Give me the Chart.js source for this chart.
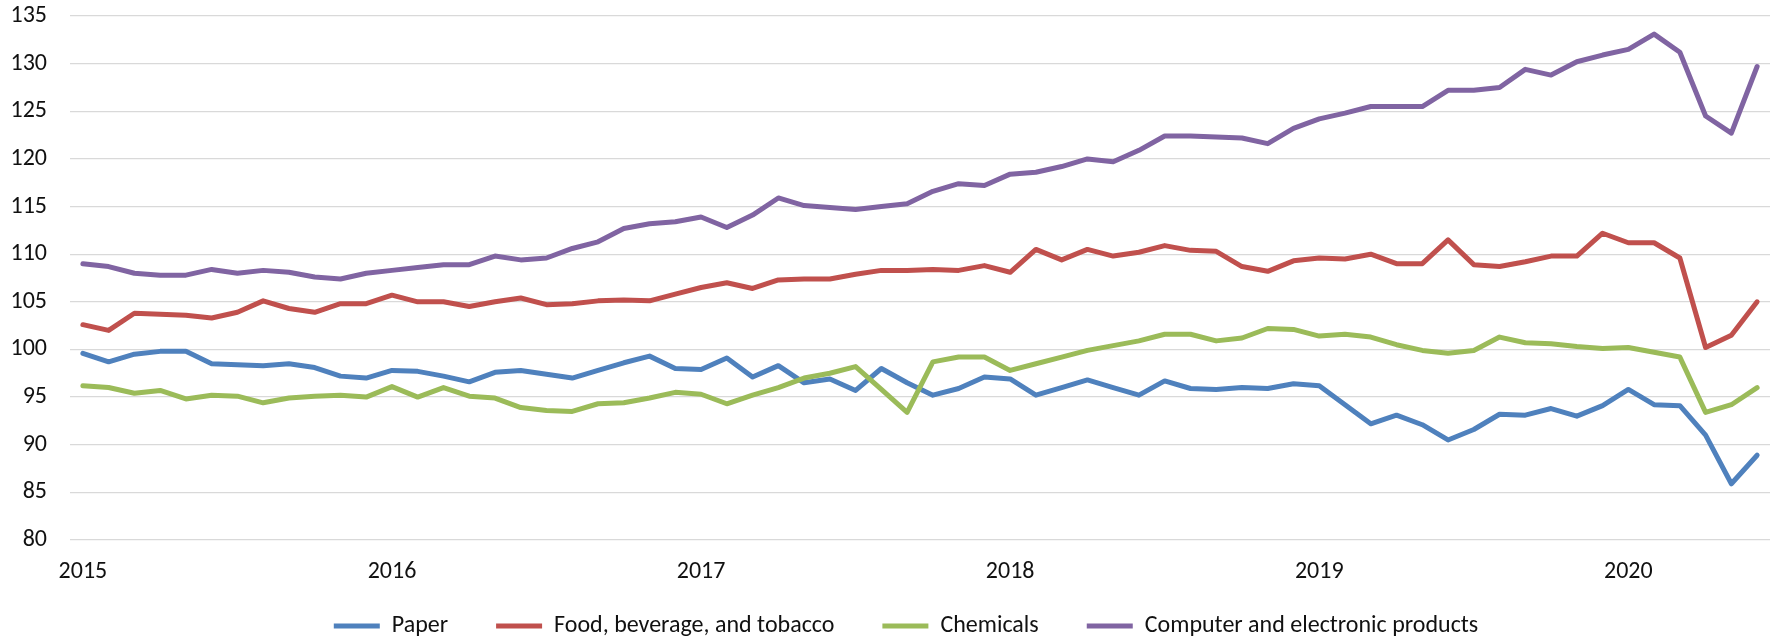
<!DOCTYPE html>
<html>
<head>
<meta charset="utf-8">
<title>Industrial production by industry</title>
<script src="https://cdn.jsdelivr.net/npm/chart.js@4.4.1/dist/chart.umd.min.js"></script>
<style>
  html, body { margin: 0; padding: 0; background: #fff; }
  #wrap { width: 1779px; height: 638px; }
</style>
</head>
<body>
<div id="wrap"><canvas id="industryChart" width="1779" height="638"></canvas></div>
<script>
// monthly index values, Jan 2015 - Jun 2020
var years = ['2015', '2016', '2017', '2018', '2019', '2020'];
var monthsPerYear = [12, 12, 12, 12, 12, 6];

var paper = [
  99.6, 98.7, 99.5, 99.8, 99.8, 98.5, 98.4, 98.3, 98.5, 98.1, 97.2, 97.0,
  97.8, 97.7, 97.2, 96.6, 97.6, 97.8, 97.4, 97.0, 97.8, 98.6, 99.3, 98.0,
  97.9, 99.1, 97.1, 98.3, 96.5, 96.9, 95.7, 98.0, 96.5, 95.2, 95.9, 97.1,
  96.9, 95.2, 96.0, 96.8, 96.0, 95.2, 96.7, 95.9, 95.8, 96.0, 95.9, 96.4,
  96.2, 94.2, 92.2, 93.1, 92.1, 90.5, 91.6, 93.2, 93.1, 93.8, 93.0, 94.1,
  95.8, 94.2, 94.1, 91.0, 85.9, 88.9
];
var food = [
  102.6, 102.0, 103.8, 103.7, 103.6, 103.3, 103.9, 105.1, 104.3, 103.9, 104.8, 104.8,
  105.7, 105.0, 105.0, 104.5, 105.0, 105.4, 104.7, 104.8, 105.1, 105.2, 105.1, 105.8,
  106.5, 107.0, 106.4, 107.3, 107.4, 107.4, 107.9, 108.3, 108.3, 108.4, 108.3, 108.8,
  108.1, 110.5, 109.4, 110.5, 109.8, 110.2, 110.9, 110.4, 110.3, 108.7, 108.2, 109.3,
  109.6, 109.5, 110.0, 109.0, 109.0, 111.5, 108.9, 108.7, 109.2, 109.8, 109.8, 112.2,
  111.2, 111.2, 109.6, 100.2, 101.5, 105.0
];
var chemicals = [
  96.2, 96.0, 95.4, 95.7, 94.8, 95.2, 95.1, 94.4, 94.9, 95.1, 95.2, 95.0,
  96.1, 95.0, 96.0, 95.1, 94.9, 93.9, 93.6, 93.5, 94.3, 94.4, 94.9, 95.5,
  95.3, 94.3, 95.2, 96.0, 97.0, 97.5, 98.2, 95.8, 93.4, 98.7, 99.2, 99.2,
  97.8, 98.5, 99.2, 99.9, 100.4, 100.9, 101.6, 101.6, 100.9, 101.2, 102.2, 102.1,
  101.4, 101.6, 101.3, 100.5, 99.9, 99.6, 99.9, 101.3, 100.7, 100.6, 100.3, 100.1,
  100.2, 99.7, 99.2, 93.4, 94.2, 96.0
];
var computers = [
  109.0, 108.7, 108.0, 107.8, 107.8, 108.4, 108.0, 108.3, 108.1, 107.6, 107.4, 108.0,
  108.3, 108.6, 108.9, 108.9, 109.8, 109.4, 109.6, 110.6, 111.3, 112.7, 113.2, 113.4,
  113.9, 112.8, 114.1, 115.9, 115.1, 114.9, 114.7, 115.0, 115.3, 116.6, 117.4, 117.2,
  118.4, 118.6, 119.2, 120.0, 119.7, 120.9, 122.4, 122.4, 122.3, 122.2, 121.6, 123.2,
  124.2, 124.8, 125.5, 125.5, 125.5, 127.2, 127.2, 127.5, 129.4, 128.8, 130.2, 130.9,
  131.5, 133.1, 131.2, 124.5, 122.7, 129.7
];

var yTickMin = 80;
var yTickMax = 135;
var yTickStep = 5;

// one category per month, labelled "YYYY-MM"
var months = [];
years.forEach(function (y, i) {
  for (var m = 1; m <= monthsPerYear[i]; m++) {
    months.push(y + '-' + (m < 10 ? '0' + m : m));
  }
});

var fontFamily = 'Calibri, Carlito, Lato, sans-serif';
var textColor = '#111111';

function line(label, data, color, order) {
  return {
    label: label,
    data: data,
    borderColor: color,
    backgroundColor: color,
    borderWidth: 5,
    borderCapStyle: 'round',
    borderJoinStyle: 'round',
    pointRadius: 0,
    pointHoverRadius: 0,
    tension: 0,
    fill: false,
    order: order
  };
}

// the legend needs wide gaps between items but should sit close under the axis
var legendPlacement = {
  id: 'legendPlacement',
  afterLayout: function (chart) {
    var lg = chart.legend;
    if (!lg) return;
    lg.top -= 21;
    lg.bottom -= 21;
    lg.left += 21;
    lg.right += 21;
  }
};

var ctx = document.getElementById('industryChart');
var industryChart = new Chart(ctx, {
  type: 'line',
  data: {
    labels: months,
    datasets: [
      line('Paper', paper, '#4F81BD', 4),
      line('Food, beverage, and tobacco', food, '#C0504D', 3),
      line('Chemicals', chemicals, '#9BBB59', 2),
      line('Computer and electronic products', computers, '#8064A2', 1)
    ]
  },
  plugins: [legendPlacement],
  options: {
    responsive: false,
    animation: false,
    layout: {
      padding: { top: 16, right: 9, bottom: -31, left: 0 }
    },
    scales: {
      x: {
        offset: true,
        grid: { display: false, drawTicks: false },
        border: { display: false },
        ticks: {
          autoSkip: false,
          maxRotation: 0,
          padding: 18,
          color: textColor,
          font: { family: fontFamily, size: 24 },
          callback: function (value) {
            var lbl = this.getLabelForValue(value);
            return lbl.slice(5) === '01' ? lbl.slice(0, 4) : null;
          }
        },
        afterFit: function (scale) { scale.height = 47; }
      },
      y: {
        min: yTickMin,
        max: yTickMax,
        grid: { color: '#d9d9d9', lineWidth: 1.3, drawTicks: false },
        border: { display: false },
        ticks: {
          stepSize: yTickStep,
          padding: 23,
          color: textColor,
          font: { family: fontFamily, size: 24 }
        },
        afterFit: function (scale) {
          scale.width = 70;
          // tick padding is only meant horizontally here
          scale.paddingTop = 12;
          scale.paddingBottom = 12;
        }
      }
    },
    plugins: {
      tooltip: { enabled: false },
      legend: {
        position: 'bottom',
        labels: {
          usePointStyle: true,
          pointStyle: 'line',
          pointStyleWidth: 46,
          padding: 48,
          color: textColor,
          font: { family: fontFamily, size: 24 },
          sort: function (a, b) { return a.datasetIndex - b.datasetIndex; }
        }
      }
    }
  }
});
</script>
</body>
</html>
